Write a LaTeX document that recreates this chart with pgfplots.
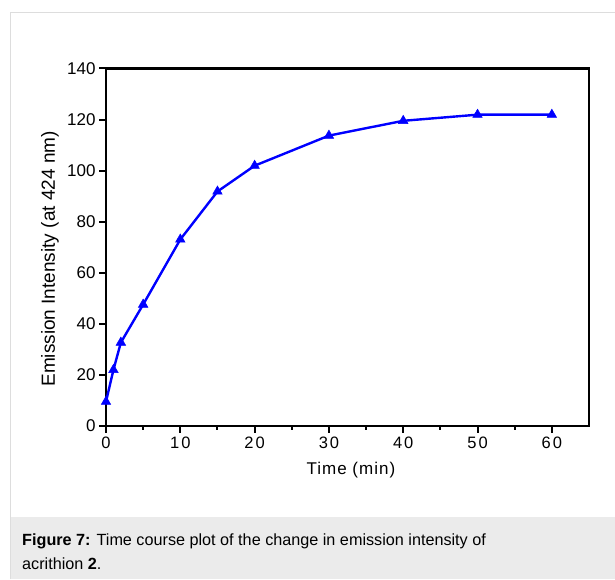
\documentclass[border=0pt]{standalone}
\usepackage{pgfplots}
\pgfplotsset{compat=1.18}
\usepackage{fontspec}
\setmainfont{Liberation Sans}
\definecolor{framegray}{HTML}{DDDDDD}
\definecolor{capbg}{HTML}{EBEBEB}
\begin{document}
\begin{tikzpicture}[x=1pt,y=1pt]
\fill[white] (0,0) rectangle (615,579);
\fill[capbg] (10.5,0) rectangle (615,62);
\draw[framegray, line width=1pt] (10.5,0) -- (10.5,566) -- (615,566);
\node[anchor=base west, inner sep=0pt, font=\fontsize{16.2}{20}\selectfont] at (22,33.5) {\textbf{Figure 7:} Time course plot of the change in emission intensity of};
\node[anchor=base west, inner sep=0pt, font=\fontsize{16.2}{20}\selectfont] at (22,9.5) {acrithion \textbf{2}.};
\begin{axis}[
  at={(106pt,153.3pt)}, anchor=south west,
  scale only axis, width=483pt, height=357.2pt,
  xmin=0, xmax=65, ymin=0, ymax=140,
  axis line style={line width=2.4pt},
  xtick={0,10,20,30,40,50,60},
  minor xtick={5,15,25,35,45,55},
  ytick={0,20,40,60,80,100,120,140},
  xtick pos=bottom, ytick pos=left,
  tick align=outside,
  major tick length=7pt, minor tick length=4pt,
  every tick/.style={black, line width=2pt},
  tick label style={font=\fontsize{17}{20}\selectfont},
  xticklabel style={font=\fontsize{16.5}{19}\selectfont\addfontfeatures{LetterSpace=12}, yshift=-1pt},
  /pgf/number format/assume math mode=true,
  xlabel={Time (min)},
  xlabel style={font=\fontsize{17}{20}\selectfont\addfontfeatures{LetterSpace=6}, at={(axis description cs:0.507,-0.125)}, anchor=center},
  ylabel={Emission Intensity (at 424 nm)},
  ylabel style={font=\fontsize{19}{23}\selectfont, at={(axis description cs:-0.116,0.467)}, anchor=center},
  clip=false,
]
\addplot[color=blue, line width=2.4pt, mark=triangle*, mark size=5.5pt, mark options={fill=blue, draw=blue, line width=0.5pt}] coordinates {
  (0,9.4) (1,21.9) (2,32.6) (5,47.5) (10,73) (15,91.8) (20,101.9) (30,113.7) (40,119.5) (50,121.9) (60,121.9)
};
\end{axis}
\pgfresetboundingbox
\useasboundingbox (0,0) rectangle (615,579);
\end{tikzpicture}
\end{document}
